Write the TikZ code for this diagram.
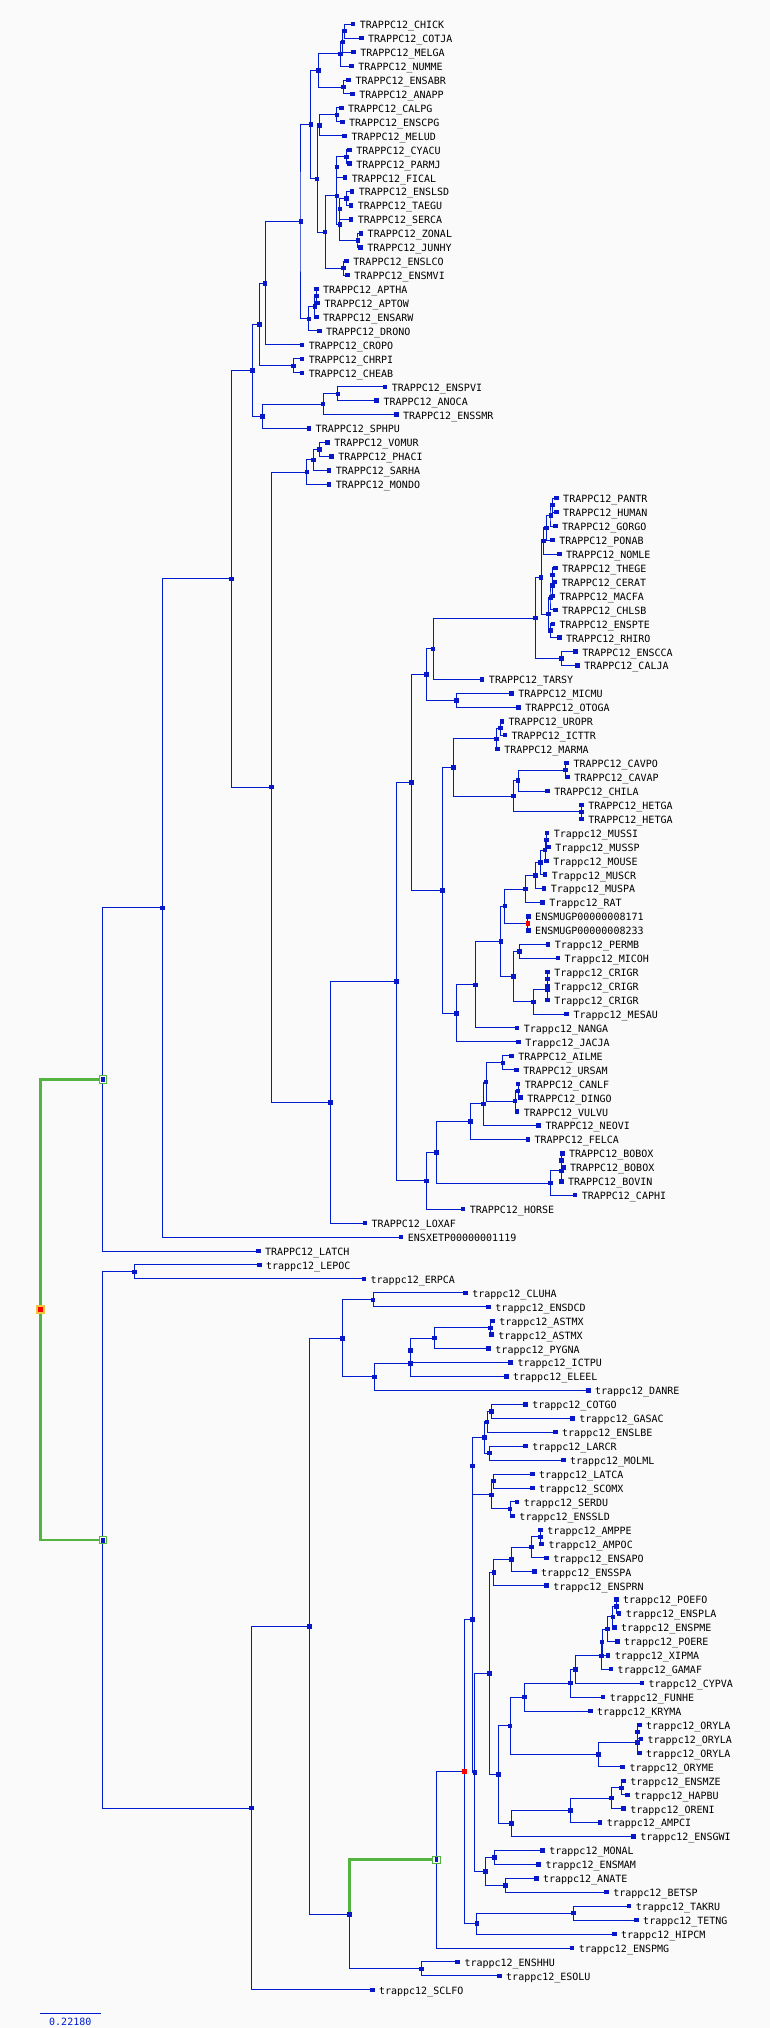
\documentclass[tikz,border=0pt]{standalone}
\usepackage{fontspec}
\usetikzlibrary{calc}
\newfontfamily\labfont{DejaVu Sans Mono}
\definecolor{bgcol}{RGB}{250,250,250}
\definecolor{linecol}{RGB}{0,28,208}
\definecolor{markcol}{RGB}{8,24,200}
\definecolor{hlgreen}{RGB}{84,180,64}
\definecolor{rootedge}{RGB}{240,196,64}
\pgfdeclarelayer{back}
\pgfsetlayers{back,main}
\tikzset{
  br/.style={draw=linecol, line width=1pt},
  hl/.style={draw=hlgreen, line width=2.8pt},
  lfmark/.style={rectangle, fill=markcol, inner sep=0pt, minimum width=4.6pt, minimum height=4.4pt},
  inmark/.style={lfmark},
  redmark/.style={lfmark, fill=red},
  selmark/.style={rectangle, draw=hlgreen, fill=bgcol, line width=0.7pt, inner sep=0pt,
    minimum width=7.6pt, minimum height=7.6pt,
    path picture={\fill[markcol] ([xshift=-1.9pt,yshift=-2.5pt]path picture bounding box.center) rectangle ++(3.8pt,5pt);}},
  rootmark/.style={rectangle, fill=red, draw=rootedge, line width=1.7pt, inner sep=0pt,
    minimum width=7.1pt, minimum height=7.1pt},
  lab/.style={anchor=base west, inner sep=0pt, font=\labfont\fontsize{10}{12}\selectfont},
}
\newcommand{\leafnode}[4]{%
  \node[lfmark] (#1) at (#2,{24.3+13.94*(#3-1)}) {};
  \node[lab] (#1t) at ([xshift=6.6pt,yshift=-4.4pt]#1.center) {#4};}
\newcommand{\splitnode}[5][inmark]{%
  \path (#3,0) coordinate (colx) ($(#4.center)!.5!(#5.center)$) coordinate (mid);
  \node[#1] (#2) at (colx |- mid) {};
  \begin{pgfonlayer}{back}
    \draw[br] (#4.center) -| (#2.center) |- (#5.center);
  \end{pgfonlayer}}
\begin{document}
\begin{tikzpicture}[x=1.4732pt,y=-1pt]
\begin{pgfonlayer}{back}
  \fill[bgcol] (0pt,0pt) rectangle (770pt,-2028pt);
\end{pgfonlayer}
\leafnode{chick}{239.7}{1}{TRAPPC12\_CHICK}
\leafnode{cotja}{245.3}{2}{TRAPPC12\_COTJA}
\leafnode{melga}{240}{3}{TRAPPC12\_MELGA}
\leafnode{numme}{238.7}{4}{TRAPPC12\_NUMME}
\leafnode{ensabr}{236.7}{5}{TRAPPC12\_ENSABR}
\leafnode{anapp}{239.3}{6}{TRAPPC12\_ANAPP}
\leafnode{calpg}{231.7}{7}{TRAPPC12\_CALPG}
\leafnode{enscpg}{232.3}{8}{TRAPPC12\_ENSCPG}
\leafnode{melud}{234}{9}{TRAPPC12\_MELUD}
\leafnode{cyacu}{237.3}{10}{TRAPPC12\_CYACU}
\leafnode{parmj}{237.3}{11}{TRAPPC12\_PARMJ}
\leafnode{fical}{234.3}{12}{TRAPPC12\_FICAL}
\leafnode{enslsd}{239}{13}{TRAPPC12\_ENSLSD}
\leafnode{taegu}{238.3}{14}{TRAPPC12\_TAEGU}
\leafnode{serca}{238.3}{15}{TRAPPC12\_SERCA}
\leafnode{zonal}{245}{16}{TRAPPC12\_ZONAL}
\leafnode{junhy}{244.7}{17}{TRAPPC12\_JUNHY}
\leafnode{enslco}{235.3}{18}{TRAPPC12\_ENSLCO}
\leafnode{ensmvi}{236}{19}{TRAPPC12\_ENSMVI}
\leafnode{aptha}{214.7}{20}{TRAPPC12\_APTHA}
\leafnode{aptow}{215.7}{21}{TRAPPC12\_APTOW}
\leafnode{ensarw}{214.7}{22}{TRAPPC12\_ENSARW}
\leafnode{drono}{216.7}{23}{TRAPPC12\_DRONO}
\leafnode{cropo}{205}{24}{TRAPPC12\_CROPO}
\leafnode{chrpi}{205}{25}{TRAPPC12\_CHRPI}
\leafnode{cheab}{205}{26}{TRAPPC12\_CHEAB}
\leafnode{enspvi}{261.3}{27}{TRAPPC12\_ENSPVI}
\leafnode{anoca}{255.7}{28}{TRAPPC12\_ANOCA}
\leafnode{enssmr}{269}{29}{TRAPPC12\_ENSSMR}
\leafnode{sphpu}{209.7}{30}{TRAPPC12\_SPHPU}
\leafnode{vomur}{222.3}{31}{TRAPPC12\_VOMUR}
\leafnode{phaci}{225}{32}{TRAPPC12\_PHACI}
\leafnode{sarha}{223.3}{33}{TRAPPC12\_SARHA}
\leafnode{mondo}{223.3}{34}{TRAPPC12\_MONDO}
\leafnode{pantr}{377.7}{35}{TRAPPC12\_PANTR}
\leafnode{human}{377.7}{36}{TRAPPC12\_HUMAN}
\leafnode{gorgo}{377}{37}{TRAPPC12\_GORGO}
\leafnode{ponab}{375}{38}{TRAPPC12\_PONAB}
\leafnode{nomle}{379.7}{39}{TRAPPC12\_NOMLE}
\leafnode{thege}{377}{40}{TRAPPC12\_THEGE}
\leafnode{cerat}{376.7}{41}{TRAPPC12\_CERAT}
\leafnode{macfa}{375.3}{42}{TRAPPC12\_MACFA}
\leafnode{chlsb}{377}{43}{TRAPPC12\_CHLSB}
\leafnode{enspte}{375.3}{44}{TRAPPC12\_ENSPTE}
\leafnode{rhiro}{379.7}{45}{TRAPPC12\_RHIRO}
\leafnode{ensca}{390.7}{46}{TRAPPC12\_ENSCCA}
\leafnode{calja}{392}{47}{TRAPPC12\_CALJA}
\leafnode{tarsy}{327.3}{48}{TRAPPC12\_TARSY}
\leafnode{micmu}{347.3}{49}{TRAPPC12\_MICMU}
\leafnode{otoga}{352}{50}{TRAPPC12\_OTOGA}
\leafnode{uropr}{340.7}{51}{TRAPPC12\_UROPR}
\leafnode{icttr}{342.7}{52}{TRAPPC12\_ICTTR}
\leafnode{marma}{337.7}{53}{TRAPPC12\_MARMA}
\leafnode{cavpo}{384.7}{54}{TRAPPC12\_CAVPO}
\leafnode{cavap}{385.3}{55}{TRAPPC12\_CAVAP}
\leafnode{chila}{371.7}{56}{TRAPPC12\_CHILA}
\leafnode{hetgaa}{394.7}{57}{TRAPPC12\_HETGA}
\leafnode{hetgab}{394.7}{58}{TRAPPC12\_HETGA}
\leafnode{mussi}{371.3}{59}{Trappc12\_MUSSI}
\leafnode{mussp}{372.3}{60}{Trappc12\_MUSSP}
\leafnode{mouse}{371}{61}{Trappc12\_MOUSE}
\leafnode{muscr}{370}{62}{Trappc12\_MUSCR}
\leafnode{muspa}{369.3}{63}{Trappc12\_MUSPA}
\leafnode{rat}{368.3}{64}{Trappc12\_RAT}
\leafnode{musa}{358.7}{65}{ENSMUGP00000008171}
\leafnode{musb}{358.7}{66}{ENSMUGP00000008233}
\leafnode{permb}{372}{67}{Trappc12\_PERMB}
\leafnode{micoh}{378.7}{68}{Trappc12\_MICOH}
\leafnode{crigra}{371.7}{69}{Trappc12\_CRIGR}
\leafnode{crigrb}{371.7}{70}{Trappc12\_CRIGR}
\leafnode{crigrc}{371.7}{71}{Trappc12\_CRIGR}
\leafnode{mesau}{384.7}{72}{Trappc12\_MESAU}
\leafnode{nanga}{351}{73}{Trappc12\_NANGA}
\leafnode{jacja}{352}{74}{Trappc12\_JACJA}
\leafnode{ailme}{347.3}{75}{TRAPPC12\_AILME}
\leafnode{ursam}{350.7}{76}{TRAPPC12\_URSAM}
\leafnode{canlf}{351.7}{77}{TRAPPC12\_CANLF}
\leafnode{dingo}{353.3}{78}{TRAPPC12\_DINGO}
\leafnode{vulvu}{351}{79}{TRAPPC12\_VULVU}
\leafnode{neovi}{365.7}{80}{TRAPPC12\_NEOVI}
\leafnode{felca}{358.3}{81}{TRAPPC12\_FELCA}
\leafnode{boboxa}{381.7}{82}{TRAPPC12\_BOBOX}
\leafnode{boboxb}{382.3}{83}{TRAPPC12\_BOBOX}
\leafnode{bovin}{381}{84}{TRAPPC12\_BOVIN}
\leafnode{caphi}{390.3}{85}{TRAPPC12\_CAPHI}
\leafnode{horse}{314.3}{86}{TRAPPC12\_HORSE}
\leafnode{loxaf}{247.7}{87}{TRAPPC12\_LOXAF}
\leafnode{xentr}{272.3}{88}{ENSXETP00000001119}
\leafnode{latch}{175.3}{89}{TRAPPC12\_LATCH}
\leafnode{lepoc}{176}{90}{trappc12\_LEPOC}
\leafnode{erpca}{247}{91}{trappc12\_ERPCA}
\leafnode{cluha}{316}{92}{trappc12\_CLUHA}
\leafnode{ensdcd}{331.7}{93}{trappc12\_ENSDCD}
\leafnode{astmxa}{334.3}{94}{trappc12\_ASTMX}
\leafnode{astmxb}{333.7}{95}{trappc12\_ASTMX}
\leafnode{pygna}{331.7}{96}{trappc12\_PYGNA}
\leafnode{ictpu}{346.7}{97}{trappc12\_ICTPU}
\leafnode{eleel}{343.7}{98}{trappc12\_ELEEL}
\leafnode{danre}{399.3}{99}{trappc12\_DANRE}
\leafnode{cotgo}{356.7}{100}{trappc12\_COTGO}
\leafnode{gasac}{388.7}{101}{trappc12\_GASAC}
\leafnode{enslbe}{377}{102}{trappc12\_ENSLBE}
\leafnode{larcr}{356.7}{103}{trappc12\_LARCR}
\leafnode{molml}{382.3}{104}{trappc12\_MOLML}
\leafnode{latca}{361.3}{105}{trappc12\_LATCA}
\leafnode{scomx}{361.3}{106}{trappc12\_SCOMX}
\leafnode{serdu}{351}{107}{trappc12\_SERDU}
\leafnode{ensssld}{348}{108}{trappc12\_ENSSLD}
\leafnode{amppe}{367}{109}{trappc12\_AMPPE}
\leafnode{ampoc}{367.7}{110}{trappc12\_AMPOC}
\leafnode{ensapo}{371}{111}{trappc12\_ENSAPO}
\leafnode{ensspa}{362.7}{112}{trappc12\_ENSSPA}
\leafnode{ensprn}{371}{113}{trappc12\_ENSPRN}
\leafnode{poefo}{418.3}{114}{trappc12\_POEFO}
\leafnode{enspla}{420.3}{115}{trappc12\_ENSPLA}
\leafnode{enspme}{417}{116}{trappc12\_ENSPME}
\leafnode{poere}{419}{117}{trappc12\_POERE}
\leafnode{xipma}{412.7}{118}{trappc12\_XIPMA}
\leafnode{gamaf}{414.7}{119}{trappc12\_GAMAF}
\leafnode{cypva}{435.7}{120}{trappc12\_CYPVA}
\leafnode{funhe}{409.3}{121}{trappc12\_FUNHE}
\leafnode{kryma}{400.7}{122}{trappc12\_KRYMA}
\leafnode{orylaa}{434}{123}{trappc12\_ORYLA}
\leafnode{orylab}{435}{124}{trappc12\_ORYLA}
\leafnode{orylac}{434}{125}{trappc12\_ORYLA}
\leafnode{oryme}{422.7}{126}{trappc12\_ORYME}
\leafnode{ensmze}{423.3}{127}{trappc12\_ENSMZE}
\leafnode{hapbu}{426}{128}{trappc12\_HAPBU}
\leafnode{oreni}{423.3}{129}{trappc12\_ORENI}
\leafnode{ampci}{407.3}{130}{trappc12\_AMPCI}
\leafnode{ensgwi}{430}{131}{trappc12\_ENSGWI}
\leafnode{monal}{368.3}{132}{trappc12\_MONAL}
\leafnode{ensmam}{365.7}{133}{trappc12\_ENSMAM}
\leafnode{anate}{364}{134}{trappc12\_ANATE}
\leafnode{betsp}{411.7}{135}{trappc12\_BETSP}
\leafnode{takru}{427}{136}{trappc12\_TAKRU}
\leafnode{tetng}{432}{137}{trappc12\_TETNG}
\leafnode{hipcm}{417}{138}{trappc12\_HIPCM}
\leafnode{enspmg}{388.3}{139}{trappc12\_ENSPMG}
\leafnode{enshhu}{310.7}{140}{trappc12\_ENSHHU}
\leafnode{esolu}{339}{141}{trappc12\_ESOLU}
\leafnode{sclfo}{252.7}{142}{trappc12\_SCLFO}
\splitnode{galA}{233.7}{chick}{cotja}
\splitnode{galB}{232.7}{galA}{melga}
\splitnode{galC}{231}{galB}{numme}
\splitnode{ansA}{233}{ensabr}{anapp}
\splitnode{galans}{216.3}{galC}{ansA}
\splitnode{calA}{228.7}{calpg}{enscpg}
\splitnode{calB}{217}{calA}{melud}
\splitnode{parA}{235.3}{cyacu}{parmj}
\splitnode{parB}{228.7}{parA}{fical}
\splitnode{finA}{235.3}{enslsd}{taegu}
\splitnode{finB}{230.7}{finA}{serca}
\splitnode{finC}{243}{zonal}{junhy}
\splitnode{finD}{230.7}{finB}{finC}
\splitnode{passA}{228.7}{parB}{finD}
\splitnode{corA}{233}{enslco}{ensmvi}
\splitnode{passB}{220.7}{passA}{corA}
\splitnode{neoA}{215.3}{calB}{passB}
\splitnode{neoB}{211}{galans}{neoA}
\splitnode{ratA}{214.7}{aptha}{aptow}
\splitnode{ratB}{213.7}{ratA}{ensarw}
\splitnode{ratC}{209.7}{ratB}{drono}
\splitnode{aveA}{204.3}{neoB}{ratC}
\splitnode{aveB}{180}{aveA}{cropo}
\splitnode{turA}{199.3}{chrpi}{cheab}
\splitnode{aveC}{176}{aveB}{turA}
\splitnode{sqA}{229.3}{enspvi}{anoca}
\splitnode{sqB}{219.3}{sqA}{enssmr}
\splitnode{sqC}{178}{sqB}{sphpu}
\splitnode{sauA}{171.3}{aveC}{sqC}
\splitnode{marA}{217}{vomur}{phaci}
\splitnode{marB}{212.7}{marA}{sarha}
\splitnode{marC}{208.3}{marB}{mondo}
\splitnode{homA}{375}{pantr}{human}
\splitnode{homB}{374}{homA}{gorgo}
\splitnode{homC}{371}{homB}{ponab}
\splitnode{homD}{369}{homC}{nomle}
\splitnode{cerA}{375}{thege}{cerat}
\splitnode{cerB}{375}{cerA}{macfa}
\splitnode{cerC}{374}{cerB}{chlsb}
\splitnode{colA}{373.7}{enspte}{rhiro}
\splitnode{cerD}{372.3}{cerC}{colA}
\splitnode{catA}{367.3}{homD}{cerD}
\splitnode{nwmA}{381}{ensca}{calja}
\splitnode{simA}{363.3}{catA}{nwmA}
\splitnode{priA}{294}{simA}{tarsy}
\splitnode{strA}{310}{micmu}{otoga}
\splitnode{priB}{289.3}{priA}{strA}
\splitnode{sciA}{339.7}{uropr}{icttr}
\splitnode{sciB}{337}{sciA}{marma}
\splitnode{cavA}{383.7}{cavpo}{cavap}
\splitnode{cavB}{351.7}{cavA}{chila}
\splitnode{hetA}{394.7}{hetgaa}{hetgab}
\splitnode{hysA}{348.7}{cavB}{hetA}
\splitnode{rodA}{307.7}{sciB}{hysA}
\splitnode{musA}{371}{mussi}{mussp}
\splitnode{musB}{370}{musA}{mouse}
\splitnode{musC}{367}{musB}{muscr}
\splitnode{musD}{363.3}{musC}{muspa}
\splitnode{murA}{356.7}{musD}{rat}
\splitnode[redmark]{mugA}{358.3}{musa}{musb}
\splitnode{murB}{342.7}{murA}{mugA}
\splitnode{criA}{352.7}{permb}{micoh}
\splitnode{criB}{371.7}{crigra}{crigrb}
\splitnode{criC}{371.5}{criB}{crigrc}
\splitnode{criD}{362}{criC}{mesau}
\splitnode{criE}{348.7}{criA}{criD}
\splitnode{murC}{340}{murB}{criE}
\splitnode{murD}{322.7}{murC}{nanga}
\splitnode{murE}{310}{murD}{jacja}
\splitnode{rodB}{300.3}{rodA}{murE}
\splitnode{euaA}{279.3}{priB}{rodB}
\splitnode{ursA}{341.3}{ailme}{ursam}
\splitnode{canA}{351.7}{canlf}{dingo}
\splitnode{canB}{349.7}{canA}{vulvu}
\splitnode{carA}{330}{ursA}{canB}
\splitnode{carB}{328}{carA}{neovi}
\splitnode{carC}{319.3}{carB}{felca}
\splitnode{bovA}{381}{boboxa}{boboxb}
\splitnode{bovB}{381}{bovA}{bovin}
\splitnode{bovC}{373.7}{bovB}{caphi}
\splitnode{lauA}{296.3}{carC}{bovC}
\splitnode{lauB}{289.3}{lauA}{horse}
\splitnode{borA}{269}{euaA}{lauB}
\splitnode{eutA}{224.3}{borA}{loxaf}
\splitnode{mamA}{184.3}{marC}{eutA}
\splitnode{amnA}{157}{sauA}{mamA}
\splitnode{tetA}{110.3}{amnA}{xentr}
\splitnode[selmark]{sarA}{69.7}{tetA}{latch}
\splitnode{holA}{91.3}{lepoc}{erpca}
\splitnode{cluA}{253.3}{cluha}{ensdcd}
\splitnode{astA}{333}{astmxa}{astmxb}
\splitnode{ostA}{295}{astA}{pygna}
\splitnode{ostB}{278.7}{ostA}{ictpu}
\splitnode{ostC}{278.7}{ostB}{eleel}
\splitnode{ostD}{254.3}{ostC}{danre}
\splitnode{otoA}{232.3}{cluA}{ostD}
\splitnode{perA}{333.7}{cotgo}{gasac}
\splitnode{perB}{330.7}{perA}{enslbe}
\splitnode{perC}{332.3}{larcr}{molml}
\splitnode{perD}{329}{perB}{perC}
\splitnode{perE}{335}{latca}{scomx}
\splitnode{perF}{346.3}{serdu}{ensssld}
\splitnode{perG}{333.7}{perE}{perF}
\splitnode{perH}{320.7}{perD}{perG}
\splitnode{pomA}{367}{amppe}{ampoc}
\splitnode{pomB}{360.7}{pomA}{ensapo}
\splitnode{pomC}{347.3}{pomB}{ensspa}
\splitnode{pomD}{335.3}{pomC}{ensprn}
\splitnode{poeA}{418.3}{poefo}{enspla}
\splitnode{poeB}{416}{poeA}{enspme}
\splitnode{poeC}{412.3}{poeB}{poere}
\splitnode{poeD}{408.7}{poeC}{xipma}
\splitnode{poeE}{408.3}{poeD}{gamaf}
\splitnode{cypA}{390.7}{poeE}{cypva}
\splitnode{cypB}{387.3}{cypA}{funhe}
\splitnode{cypC}{356}{cypB}{kryma}
\splitnode{oryA}{432.7}{orylaa}{orylab}
\splitnode{oryB}{432.7}{oryA}{orylac}
\splitnode{oryC}{406.3}{oryB}{oryme}
\splitnode{atrA}{346.3}{cypC}{oryC}
\splitnode{cicA}{422}{ensmze}{hapbu}
\splitnode{cicB}{415}{cicA}{oreni}
\splitnode{cicC}{387.3}{cicB}{ampci}
\splitnode{cicD}{347.3}{cicC}{ensgwi}
\splitnode{ovaA}{338.3}{atrA}{cicD}
\splitnode{ovaB}{332.3}{pomD}{ovaA}
\splitnode{anaA}{335.7}{monal}{ensmam}
\splitnode{anaB}{343}{anate}{betsp}
\splitnode{anaC}{329.7}{anaA}{anaB}
\splitnode{perI}{322.3}{ovaB}{anaC}
\splitnode{perJ}{320.7}{perH}{perI}
\splitnode{tetrA}{389.3}{takru}{tetng}
\splitnode{tetrB}{323.7}{tetrA}{hipcm}
\splitnode[redmark]{acaA}{315.3}{perJ}{tetrB}
\splitnode[selmark]{acaB}{296.3}{acaA}{enspmg}
\splitnode{esoA}{286}{enshhu}{esolu}
\path (237.3,0) coordinate (colx) ($(acaB.center)!.5!(esoA.center)$) coordinate (mid);
\node[inmark] (eutelA) at (colx |- mid) {};
\begin{pgfonlayer}{back}
  \draw[hl] (acaB.center) -| (eutelA.center);
  \draw[br] (eutelA.center) |- (esoA.center);
\end{pgfonlayer}
\splitnode{telA}{210}{otoA}{eutelA}
\splitnode{telB}{170.7}{telA}{sclfo}
\splitnode[selmark]{actA}{69.7}{holA}{telB}
\path (27.3,0) coordinate (colx) ($(sarA.center)!.5!(actA.center)$) coordinate (mid);
\node[rootmark] (root) at (colx |- mid) {};
\begin{pgfonlayer}{back}
  \draw[hl] (sarA.center) -| (root.center) |- (actA.center);
\end{pgfonlayer}
\coordinate (sbleft) at (27,2013.7);
\coordinate (sbright) at (68.3,2013.7);
\draw[draw=linecol, line width=1.5pt] (sbleft) -- (sbright);
\node[lab, anchor=base, text=linecol] (sbtext) at (47.7,2025.7) {0.22180};
\end{tikzpicture}
\end{document}
